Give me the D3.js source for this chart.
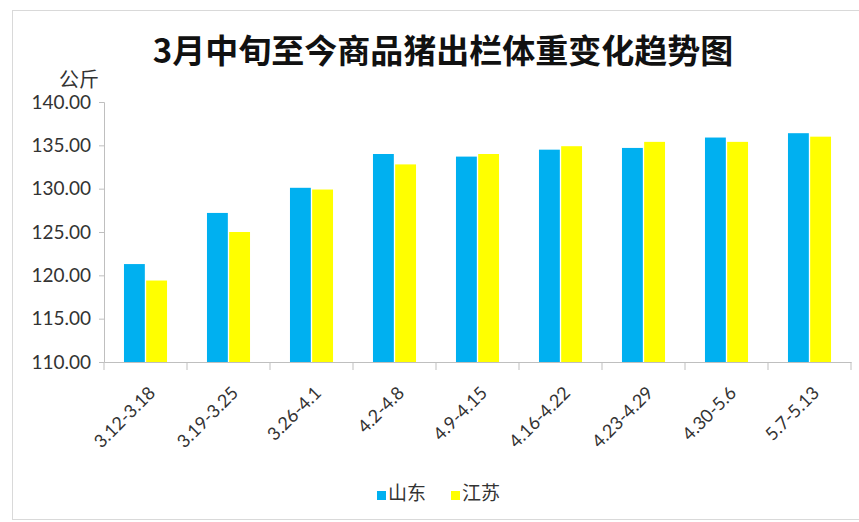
<!DOCTYPE html>
<html>
<head>
<meta charset="utf-8">
<script src="https://cdn.jsdelivr.net/npm/d3@7"></script>
<style>
  body { margin: 0; background: #fff; }
  text { font-family: Lato, "Noto Sans CJK SC", sans-serif; }
</style>
</head>
<body>
<div id="chart"></div>
<script>
/* Data */
var categories = ["3.12-3.18", "3.19-3.25", "3.26-4.1", "4.2-4.8", "4.9-4.15", "4.16-4.22", "4.23-4.29", "4.30-5.6", "5.7-5.13"];
var seriesNames = ["山东", "江苏"];
var shandong = [121.3, 127.2, 130.1, 134.0, 133.7, 134.5, 134.7, 135.9, 136.4];
var jiangsu = [119.4, 125.0, 129.9, 132.8, 134.0, 134.9, 135.4, 135.4, 136.0];
var yTicks = [110, 115, 120, 125, 130, 135, 140];
var colors = ["#00B0F0", "#FFFF00"];

var width = 859, height = 522;
var margin = {top: 102, right: 8, bottom: 160, left: 104};

var svg = d3.select("#chart").append("svg")
    .attr("width", width)
    .attr("height", height);

// chart frame
svg.append("rect")
    .attr("x", 12.5).attr("y", 10.5)
    .attr("width", 870).attr("height", 509)
    .attr("fill", "#fff")
    .attr("stroke", "#d9d9d9");

// title
svg.append("text")
    .attr("x", 443).attr("y", 63)
    .attr("text-anchor", "middle")
    .style("font-family", "'Noto Sans CJK SC'")
    .style("font-size", "33px")
    .style("font-weight", "bold")
    .attr("fill", "#111")
    .text("3月中旬至今商品猪出栏体重变化趋势图");

var x0 = d3.scaleBand()
    .domain(categories)
    .range([margin.left, width - margin.right])
    .paddingInner(0).paddingOuter(0);

var x1 = d3.scaleBand()
    .domain(seriesNames)
    .range([0, x0.bandwidth()])
    .paddingInner(0.06).paddingOuter(0.9);

var y = d3.scaleLinear()
    .domain([110, 140])
    .range([height - margin.bottom, margin.top]);

var rows = categories.map(function (c, i) {
    return {cat: c, values: [shandong[i], jiangsu[i]]};
});

// bars
var g = svg.append("g");
g.selectAll("g.cat").data(rows).enter().append("g")
    .attr("class", "cat")
    .attr("transform", function (d) { return "translate(" + x0(d.cat) + ",0)"; })
    .selectAll("rect").data(function (d) {
        return d.values.map(function (v, j) { return {name: seriesNames[j], value: v, idx: j}; });
    }).enter().append("rect")
    .attr("x", function (d) { return x1(d.name); })
    .attr("y", function (d) { return y(d.value); })
    .attr("width", x1.bandwidth())
    .attr("height", function (d) { return y(110) - y(d.value); })
    .attr("fill", function (d) { return colors[d.idx]; });

// y axis
var yAxis = svg.append("g")
    .attr("transform", "translate(" + margin.left + ",0)")
    .call(d3.axisLeft(y).tickValues(yTicks).tickFormat(d3.format(".2f")).tickSize(5).tickPadding(8));
yAxis.select(".domain").attr("stroke", "#bfbfbf");
yAxis.selectAll(".tick line").attr("stroke", "#bfbfbf");
yAxis.selectAll("text")
    .style("font-size", "19px")
    .attr("fill", "#333");

// unit label
svg.append("text")
    .attr("x", 79).attr("y", 87)
    .attr("text-anchor", "middle")
    .style("font-family", "'Noto Sans CJK SC'")
    .style("font-size", "20px")
    .attr("fill", "#333")
    .text("公斤");

// x axis
var xAxis = svg.append("g")
    .attr("transform", "translate(0," + y(110) + ")")
    .call(d3.axisBottom(x0).tickSize(0).tickFormat(""));
xAxis.select(".domain").attr("stroke", "#bfbfbf");

// tick marks at category boundaries
var bounds = categories.map(function (c) { return x0(c); }).concat([x0.range()[1]]);
svg.append("g").selectAll("line").data(bounds).enter().append("line")
    .attr("x1", function (d) { return d; })
    .attr("x2", function (d) { return d; })
    .attr("y1", y(110))
    .attr("y2", y(110) + 8)
    .attr("stroke", "#bfbfbf");

// rotated category labels
svg.append("g").selectAll("text").data(categories).enter().append("text")
    .attr("transform", function (d) {
        return "translate(" + (x0(d) + x0.bandwidth() / 2 + 11) + "," + (y(110) + 32) + ") rotate(-45)";
    })
    .attr("text-anchor", "end")
    .style("font-size", "18px")
    .attr("fill", "#333")
    .text(function (d) { return d; });

// legend
var legend = svg.append("g").attr("transform", "translate(377,495)");
var legendX = [0, 74];
seriesNames.forEach(function (name, i) {
    legend.append("rect")
        .attr("x", legendX[i]).attr("y", -4)
        .attr("width", 9).attr("height", 9)
        .attr("fill", colors[i]);
    legend.append("text")
        .attr("x", legendX[i] + 11).attr("y", 0)
        .attr("dominant-baseline", "middle")
        .style("font-family", "'Noto Sans CJK SC'")
        .style("font-size", "19px")
        .attr("fill", "#333")
        .text(name);
});
</script>
</body>
</html>
